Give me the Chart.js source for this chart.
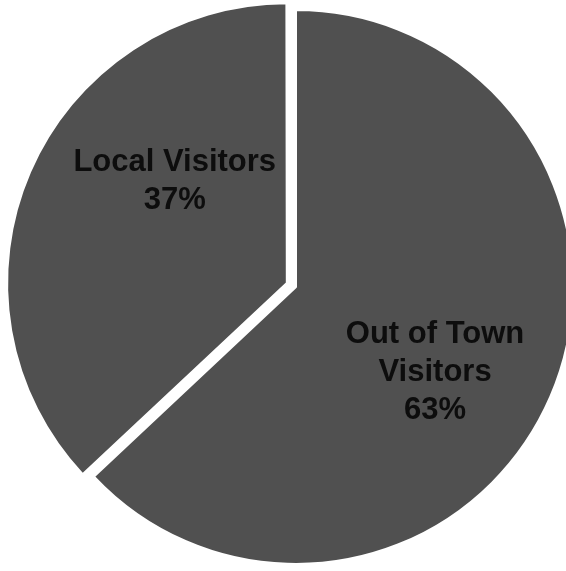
<!DOCTYPE html>
<html>
<head>
<meta charset="utf-8">
<script src="https://cdn.jsdelivr.net/npm/chart.js@4"></script>
<style>
  html, body { margin: 0; padding: 0; background: #fff; overflow: hidden; }
  #wrap { width: 566px; height: 571px; position: relative; }
</style>
</head>
<body>
<div id="wrap"><canvas id="visitorPie"></canvas></div>
<script>
// slice data, clockwise from 12 o'clock
const categories = ['Out of Town Visitors', 'Local Visitors'];
const shares = [63, 37];
// how each category name wraps inside its slice
const labelLines = [['Out of Town', 'Visitors'], ['Local Visitors']];

// text placed inside each slice: angle (deg, chart.js convention) and fraction of radius
const sliceLabels = {
    id: 'sliceLabels',
    afterDatasetsDraw(chart, args, opts) {
        const ctx = chart.ctx;
        const arcs = chart.getDatasetMeta(0).data;
        ctx.save();
        ctx.font = opts.font;
        ctx.fillStyle = opts.color;
        ctx.textAlign = 'center';
        ctx.textBaseline = 'middle';
        arcs.forEach((arc, i) => {
            const p = opts.place[i];
            const a = p.angle * Math.PI / 180;
            const cx = arc.x + Math.cos(a) * arc.outerRadius * p.r;
            const cy = arc.y + Math.sin(a) * arc.outerRadius * p.r;
            const lines = labelLines[i].concat([shares[i] + '%']);
            const top = cy - (lines.length - 1) * opts.lineHeight / 2;
            lines.forEach((t, j) => ctx.fillText(t, cx, top + j * opts.lineHeight));
        });
        ctx.restore();
    }
};

const ctx = document.getElementById('visitorPie').getContext('2d');

const myChart = new Chart(ctx, {
    type: 'pie',
    data: {
        labels: categories,
        datasets: [{
            data: shares,
            backgroundColor: ['#505050', '#505050'],
            borderColor: '#ffffff',
            borderWidth: 2,
            offset: [0, 40],
            clip: false,
        }],
    },
    options: {
        responsive: true,
        maintainAspectRatio: false,
        animation: false,
        events: [],
        radius: 277,
        layout: { padding: { left: 26, top: 3, right: 0, bottom: 0 } },
        plugins: {
            legend: { display: false },
            tooltip: { enabled: false },
            sliceLabels: {
                font: 'bold 31px "Liberation Sans", Arial, sans-serif',
                color: '#0d0d0d',
                lineHeight: 38,
                place: [{ angle: 31.7, r: 0.59 }, { angle: -139, r: 0.58 }],
            },
        },
    },
    plugins: [sliceLabels],
});
</script>
</body>
</html>
